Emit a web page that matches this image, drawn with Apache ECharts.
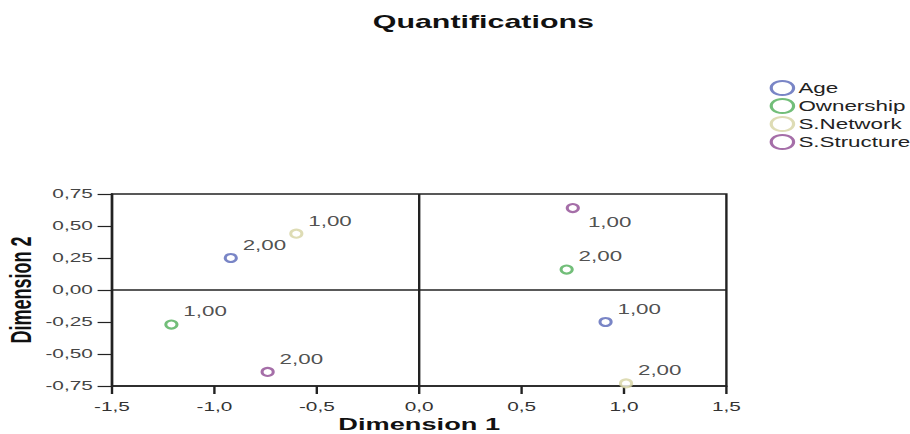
<!DOCTYPE html>
<html>
<head>
<meta charset="utf-8">
<script src="https://cdn.jsdelivr.net/npm/echarts@6/dist/echarts.min.js"></script>
<style>
    html, body { margin: 0; padding: 0; background: #fff; overflow: hidden; }
    /* the original figure is stretched sideways, so draw narrow and widen */
    #chart { width: 569px; height: 434px; transform: scaleX(1.6); transform-origin: 0 0; }
</style>
</head>
<body>
<div id="chart"></div>
<script>
// variables and their category points (Dimension 1, Dimension 2)
const variables = ['Age', 'Ownership', 'S.Network', 'S.Structure']
const pointLabels = ['1,00', '2,00']
const dim1 = [
    [0.91, -0.92],
    [-1.21, 0.72],
    [-0.60, 1.01],
    [0.75, -0.74]
]
const dim2 = [
    [-0.25, 0.25],
    [-0.27, 0.16],
    [0.44, -0.73],
    [0.64, -0.64]
]
const xTicks = [-1.5, -1.0, -0.5, 0.0, 0.5, 1.0, 1.5]
const yTicks = [-0.75, -0.50, -0.25, 0.00, 0.25, 0.50, 0.75]

const colors = ['#5867b8', '#4fae57', '#d6d3a2', '#8e4a92']
const font = 'Liberation Sans, Arial, sans-serif'

const fmt = (v, d) => v.toFixed(d).replace('.', ',')

let chart = echarts.init(document.getElementById('chart'), null, { renderer: 'svg' })

let series = variables.map((name, i) => {
    let data = pointLabels.map((lab, j) => {
        let item = { value: [dim1[i][j], dim2[i][j], lab] }
        // the one label that sits below the marker
        if (dim2[i][j] > 0.6) {
            item.label = { offset: [2, 14] }
        }
        return item
    })
    return {
        name: name,
        type: 'scatter',
        symbol: 'emptyCircle',
        symbolSize: [7, 8],
        data: data,
        itemStyle: { color: colors[i], borderColor: colors[i], borderWidth: 1.5 },
        label: {
            show: true,
            position: 'right',
            distance: 3,
            offset: [0, -13],
            formatter: p => p.value[2],
            color: '#222',
            fontSize: 14,
            fontFamily: font
        },
        emphasis: { disabled: true }
    }
})

// reference lines at zero
series.push({
    type: 'scatter',
    data: [],
    silent: true,
    markLine: {
        silent: true,
        symbol: 'none',
        label: { show: false },
        lineStyle: { color: '#222', width: 1.5, type: 'solid' },
        data: [{ xAxis: 0 }, { yAxis: 0 }]
    }
})

let option = {
    animation: false,
    color: colors,
    title: {
        text: 'Quantifications',
        left: 228,
        top: 7,
        textStyle: { fontSize: 19, fontWeight: 'bold', color: '#111', fontFamily: font }
    },
    legend: {
        orient: 'vertical',
        left: 476,
        top: 75,
        itemWidth: 14,
        itemHeight: 14,
        itemGap: 2,
        icon: 'emptyCircle',
        data: variables,
        itemStyle: { borderWidth: 1 },
        textStyle: { fontSize: 14, lineHeight: 14, color: '#222', fontFamily: font, padding: [0, 0, 0, -2] }
    },
    grid: {
        left: 70,
        right: 115,
        top: 194,
        bottom: 48,
        outerBoundsMode: 'none',
        show: true,
        borderColor: '#222',
        borderWidth: 1.5
    },
    xAxis: {
        type: 'value',
        min: xTicks[0],
        max: xTicks[xTicks.length - 1],
        interval: 0.5,
        name: 'Dimension 1',
        nameLocation: 'middle',
        nameGap: 30,
        nameMoveOverlap: false,
        nameTextStyle: { fontSize: 17, fontWeight: 'bold', color: '#111', fontFamily: font },
        axisLine: { show: true, onZero: false, lineStyle: { color: '#222', width: 1.5 } },
        axisTick: { show: true, length: 8, lineStyle: { color: '#222', width: 1.5 } },
        axisLabel: { fontSize: 13, color: '#333', fontFamily: font, margin: 14, formatter: v => fmt(v, 1) },
        splitLine: { show: false }
    },
    yAxis: {
        type: 'value',
        min: yTicks[0],
        max: yTicks[yTicks.length - 1],
        interval: 0.25,
        name: 'Dimension 2',
        nameLocation: 'middle',
        nameGap: 48,
        nameMoveOverlap: false,
        nameTextStyle: { fontSize: 18, fontWeight: 'bold', color: '#111', fontFamily: font },
        axisLine: { show: true, onZero: false, lineStyle: { color: '#222', width: 1.5 } },
        axisTick: { show: true, length: 9, lineStyle: { color: '#222', width: 1.2 } },
        axisLabel: { fontSize: 13, color: '#444', fontFamily: font, margin: 12, formatter: v => fmt(v, 2) },
        splitLine: { show: false }
    },
    series: series
}

chart.setOption(option)
</script>
</body>
</html>
